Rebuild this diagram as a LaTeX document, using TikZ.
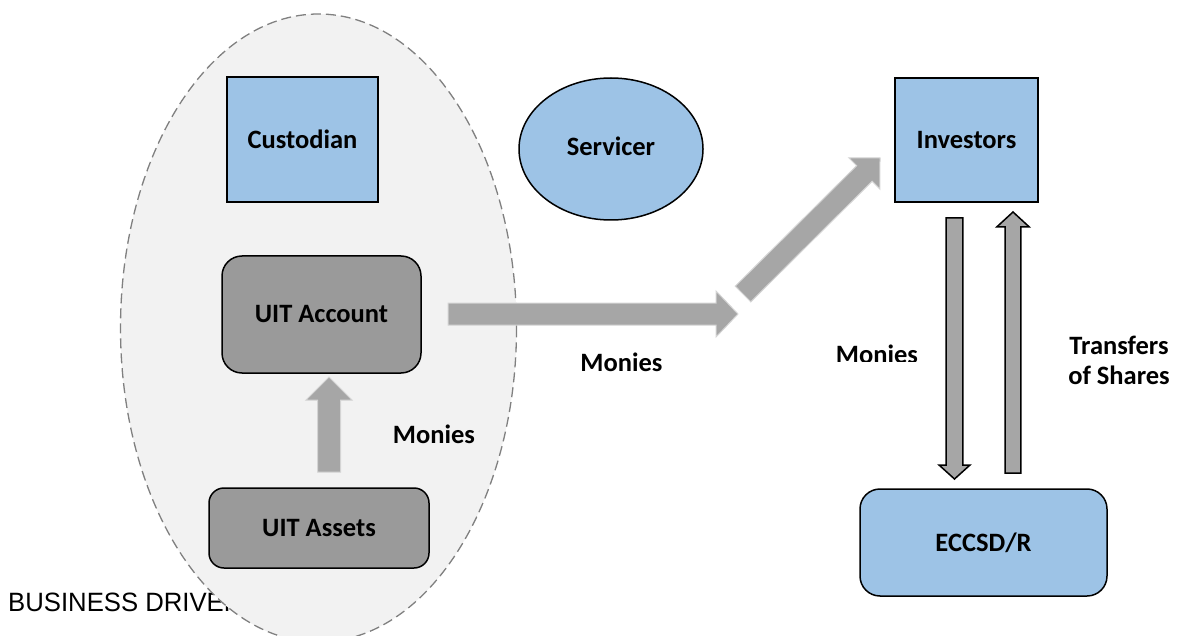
\documentclass[tikz,border=0pt]{standalone}
\usepackage{fontspec}
\setmainfont{Carlito}
\newfontfamily\captionsans{Liberation Sans}
\usetikzlibrary{calc,shapes.geometric}

\definecolor{boxblue}{HTML}{9DC3E6}
\definecolor{boxgray}{HTML}{9A9A9A}
\definecolor{flowgray}{HTML}{A6A6A6}
\definecolor{flowedge}{HTML}{D4D4D4}
\definecolor{zonefill}{HTML}{F2F2F2}
\definecolor{zoneedge}{HTML}{808080}

% Block arrow from tail centre #2 to tip #3:
% #4 half shaft width, #5 half head width, #6 head length
\newcommand\blockarrow[6][]{%
  \coordinate (ba-h) at ($(#3)!#6!(#2)$);
  \filldraw[#1] ($(#2)!#4!90:(#3)$) -- ($(ba-h)!#4!90:(#3)$)
    -- ($(ba-h)!#5!90:(#3)$) -- (#3) -- ($(ba-h)!#5!-90:(#3)$)
    -- ($(ba-h)!#4!-90:(#3)$) -- ($(#2)!#4!-90:(#3)$) -- cycle;
}

\tikzset{
  txt/.style={font=\bfseries\fontsize{26.5}{30}\selectfont},
  bluebox/.style={txt, draw=black, line width=1.5pt, fill=boxblue, inner sep=0pt},
  graybox/.style={txt, draw=black, line width=1.5pt, fill=boxgray, inner sep=0pt, rounded corners=20pt},
  lbl/.style={txt, inner sep=0pt, anchor=base},
  softflow/.style={fill=flowgray, draw=flowedge, line width=1pt},
  hardflow/.style={fill=flowgray, draw=black, line width=1.5pt, line join=miter},
}

\begin{document}
\begin{tikzpicture}[x=1pt, y=-1pt]
\useasboundingbox (0,0) rectangle (1177,636);
\clip (0,0) rectangle (1177,636);

% caption, partly hidden behind the trust zone
\node[anchor=base west, inner sep=0pt, font=\captionsans\fontsize{26.5}{30}\selectfont]
  (caption) at (8,611.5) {\scalebox{0.97}[1]{BUSINESS DRIVER}};

% trust zone
\node[ellipse, fill=zonefill, draw=zoneedge, line width=1.3pt, dash pattern=on 10pt off 5pt,
  minimum width=396pt, minimum height=628pt, inner sep=0pt] (zone) at (318.5,328) {};

% parties
\node[bluebox, minimum width=151pt, minimum height=125pt] (cust) at (302.5,139.5) {Custodian};
\node[bluebox, ellipse, minimum width=184pt, minimum height=142pt, text depth=6pt] (serv) at (611,149) {Servicer};
\node[bluebox, minimum width=143pt, minimum height=124pt] (inv) at (966.5,140) {Investors};
\node[graybox, minimum width=199pt, minimum height=117pt] (acct) at (321.5,314.5) {UIT Account};
\node[graybox, minimum width=220pt, minimum height=80pt, rounded corners=15pt] (assets) at (319,528) {UIT Assets};
\node[bluebox, rounded corners=20pt, minimum width=247pt, minimum height=107pt] (eccsd) at (983.5,542.5) {ECCSD/R};

% flow end points
\coordinate (f1s) at (329,472);
\coordinate (f1e) at (329,377);
\coordinate (f2s) at (448,314);
\coordinate (f2e) at (738,314);
\coordinate (f3s) at (743,294);
\coordinate (f3e) at (880,158);
\coordinate (f4s) at (954.5,218);
\coordinate (f4e) at (954.5,479);
\coordinate (f5s) at (1013,473);
\coordinate (f5e) at (1013,212);

% flows
\blockarrow[softflow]{f1s}{f1e}{11.5pt}{23pt}{23pt}
\blockarrow[softflow]{f2s}{f2e}{11pt}{23pt}{22pt}
\blockarrow[softflow]{f3s}{f3e}{11pt}{22pt}{22pt}
\blockarrow[hardflow]{f4s}{f4e}{8.3pt}{15.5pt}{14pt}
\blockarrow[hardflow]{f5s}{f5e}{7.8pt}{16.3pt}{15pt}

% flow labels
\node[lbl] (m1) at (434,443) {Monies};
\node[lbl] (m2) at (621.5,371) {Monies};
\begin{scope}
  \clip (800,300) rectangle (940,361.5);
  \node[lbl] (m3) at (877,363.5) {Monies};
\end{scope}
\node[lbl, align=center, anchor=north] (tr) at (1119,336) {Transfers\\of Shares};
\end{tikzpicture}
\end{document}
